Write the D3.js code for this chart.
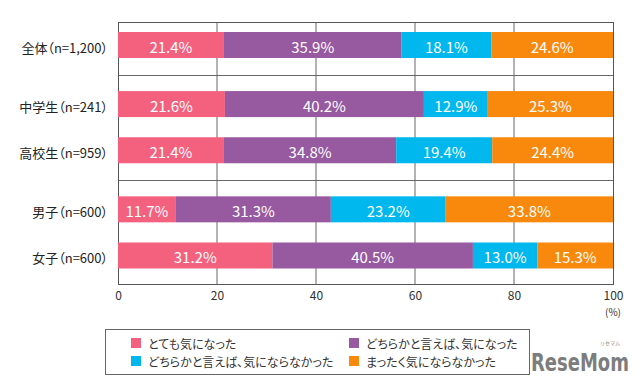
<!doctype html>
<html lang="ja">
<head>
<meta charset="utf-8">
<title>気になった割合</title>
<style>
html, body {
	margin: 0;
	padding: 0;
	background: #fff;
}
svg {
	display: block;
	font-family: 'Noto Sans CJK JP', 'Noto Sans', sans-serif;
}
</style>
</head>
<body>
<div id="chart"></div>
<script src="https://cdnjs.cloudflare.com/ajax/libs/d3/7.8.5/d3.min.js"></script>
<script>
(function (d3) {
	'use strict';

	/* DATA */

	var categories = ['全体（n=1,200）', '中学生（n=241）', '高校生（n=959）', '男子（n=600）', '女子（n=600）'];
	var groups = [0, 1, 1, 2, 2];
	var seriesNames = ['とても気になった', 'どちらかと言えば、気になった', 'どちらかと言えば、気にならなかった', 'まったく気にならなかった'];
	var veryMuch = [21.4, 21.6, 21.4, 11.7, 31.2];
	var somewhat = [35.9, 40.2, 34.8, 31.3, 40.5];
	var somewhatNot = [18.1, 12.9, 19.4, 23.2, 13.0];
	var notAtAll = [24.6, 25.3, 24.4, 33.8, 15.3];
	var xTicks = [0, 20, 40, 60, 80, 100];
	var colors = ['#f4617f', '#97599f', '#00b7ee', '#f8890c'];

	/* LAYOUT */

	var W = 640, H = 384;
	var plotTop = 22, plotBottom = 284;
	var barH = 26;
	var groupGap = 0.28;

	var rows = categories.map(function (c, i) {
		return {
			name: c,
			slot: i + groups[i] * groupGap,
			values: [veryMuch[i], somewhat[i], somewhatNot[i], notAtAll[i]]
		};
	});

	var x = d3.scaleLinear().domain([0, 100]).range([118, 613]);
	var lastSlot = rows[rows.length - 1].slot;
	var y = d3.scaleLinear().domain([0, lastSlot]).range([45, 255.5]);

	var stack = d3.stack()
		.keys([0, 1, 2, 3])
		.value(function (d, k) { return d.values[k]; });
	var layers = stack(rows);

	var svg = d3.select('#chart').append('svg')
		.attr('width', W)
		.attr('height', H);

	/* GRID + FRAME */

	svg.append('g')
		.selectAll('line')
		.data(xTicks.slice(1, -1))
		.enter().append('line')
		.attr('x1', function (d) { return x(d); })
		.attr('x2', function (d) { return x(d); })
		.attr('y1', plotTop)
		.attr('y2', plotBottom)
		.attr('stroke', '#666')
		.attr('stroke-width', 1);

	// separators between groups
	var seps = [];
	for (var i = 1; i < rows.length; i++) {
		if (groups[i] !== groups[i - 1]) {
			seps.push(((y(rows[i - 1].slot) + barH / 2) + (y(rows[i].slot) - barH / 2)) / 2);
		}
	}
	svg.append('g')
		.selectAll('line')
		.data(seps)
		.enter().append('line')
		.attr('x1', x(0))
		.attr('x2', x(100))
		.attr('y1', function (d) { return Math.round(d) + 0.5; })
		.attr('y2', function (d) { return Math.round(d) + 0.5; })
		.attr('stroke', '#666');

	svg.append('rect')
		.attr('x', x(0) + 0.5)
		.attr('y', plotTop + 0.5)
		.attr('width', x(100) - x(0))
		.attr('height', plotBottom - plotTop)
		.attr('fill', 'none')
		.attr('stroke', '#555');

	/* BARS */

	var layer = svg.append('g')
		.selectAll('g')
		.data(layers)
		.enter().append('g')
		.attr('fill', function (d) { return colors[d.key]; });

	layer.selectAll('rect')
		.data(function (d) { return d; })
		.enter().append('rect')
		.attr('x', function (d) { return x(d[0]); })
		.attr('width', function (d) { return x(d[1]) - x(d[0]); })
		.attr('y', function (d) { return y(d.data.slot) - barH / 2; })
		.attr('height', barH);

	layer.selectAll('text')
		.data(function (d) { return d; })
		.enter().append('text')
		.attr('x', function (d) { return (x(d[0]) + x(d[1])) / 2; })
		.attr('y', function (d) { return y(d.data.slot) + 1; })
		.attr('text-anchor', 'middle')
		.attr('dominant-baseline', 'central')
		.attr('fill', '#fff')
		.attr('font-size', 15)
		.text(function (d) { return (d[1] - d[0]).toFixed(1) + '%'; });

	/* AXES */

	svg.append('g')
		.selectAll('text')
		.data(rows)
		.enter().append('text')
		.attr('x', 108)
		.attr('y', function (d) { return y(d.slot) + 2; })
		.attr('text-anchor', 'end')
		.attr('dominant-baseline', 'central')
		.attr('fill', '#222')
		.attr('font-size', 13)
		.style('font-feature-settings', '"palt"')
		.text(function (d) { return d.name; });

	var xAxis = svg.append('g')
		.attr('transform', 'translate(0,' + plotBottom + ')')
		.call(d3.axisBottom(x).tickValues(xTicks).tickSize(0).tickPadding(7));
	xAxis.select('.domain').remove();
	xAxis.selectAll('text')
		.attr('font-family', "'Noto Sans CJK JP', sans-serif")
		.attr('font-size', 12)
		.attr('fill', '#333');

	svg.append('text')
		.attr('x', x(100))
		.attr('y', 316)
		.attr('text-anchor', 'middle')
		.attr('font-size', 10)
		.attr('fill', '#333')
		.text('(%)');

	/* LEGEND */

	var legend = svg.append('g');
	legend.append('rect')
		.attr('x', 105.5)
		.attr('y', 329.5)
		.attr('width', 424)
		.attr('height', 45)
		.attr('fill', 'none')
		.attr('stroke', '#666');

	var item = legend.selectAll('g')
		.data(seriesNames)
		.enter().append('g')
		.attr('transform', function (d, k) {
			return 'translate(' + (k % 2 ? 349 : 131) + ',' + (k < 2 ? 343 : 361) + ')';
		});
	item.append('rect')
		.attr('x', 0)
		.attr('y', -5)
		.attr('width', 10)
		.attr('height', 10)
		.attr('fill', function (d, k) { return colors[k]; });
	item.append('text')
		.attr('x', 17)
		.attr('y', 0)
		.attr('dominant-baseline', 'central')
		.attr('font-size', 12)
		.attr('fill', '#333')
		.style('font-feature-settings', '"palt"')
		.text(function (d) { return d; });

	/* WATERMARK */

	svg.append('text')
		.attr('transform', 'translate(531,371) scale(1,1.2)')
		.attr('font-family', "'DejaVu Sans Condensed', 'DejaVu Sans', sans-serif")
		.attr('font-weight', 'bold')
		.attr('font-size', 20)
		.attr('fill', '#7d7d7d')
		.text('ReseMom');
	svg.append('text')
		.attr('x', 610)
		.attr('y', 345)
		.attr('text-anchor', 'middle')
		.attr('font-size', 5)
		.attr('fill', '#7d7d7d')
		.text('リセマム');

})(window.d3);
</script>
</body>
</html>
